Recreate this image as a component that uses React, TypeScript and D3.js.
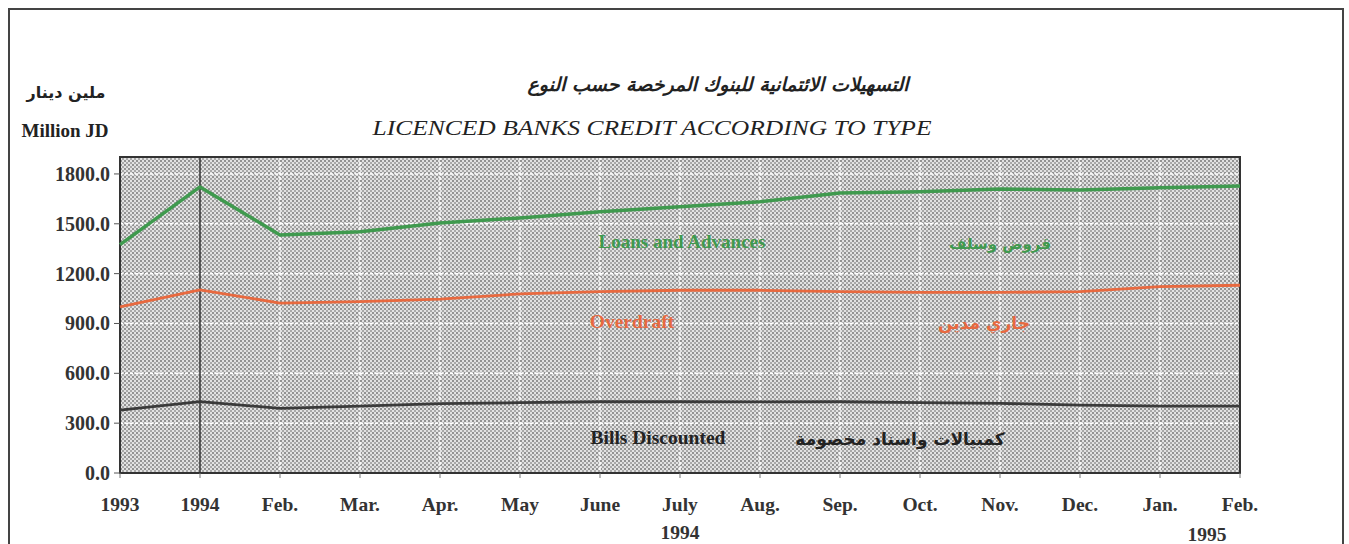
import React from "react";
import * as d3 from "d3";

const categories = ["1993", "1994", "Feb.", "Mar.", "Apr.", "May", "June", "July", "Aug.", "Sep.", "Oct.", "Nov.", "Dec.", "Jan.", "Feb."];
const loans = [1375, 1722, 1433, 1452, 1505, 1535, 1573, 1603, 1633, 1685, 1693, 1710, 1703, 1717, 1727];
const overdraft = [1000, 1102, 1023, 1031, 1046, 1078, 1092, 1100, 1100, 1092, 1087, 1087, 1092, 1122, 1130];
const bills = [379, 429, 389, 403, 418, 423, 429, 429, 428, 429, 423, 419, 409, 403, 403];
const yTicks = [0, 300, 600, 900, 1200, 1500, 1800];

const W = 1349, H = 544;
const M = { left: 120, right: 1240, top: 157, bottom: 473 };
const SERIF = "'Liberation Serif', 'DejaVu Serif', serif";
const AR = "'DejaVu Sans', 'Noto Sans', sans-serif";

export default function App() {
  const x = d3.scalePoint<number>().domain(d3.range(categories.length)).range([M.left, M.right]);
  const y = d3.scaleLinear().domain([0, 1902]).range([M.bottom, M.top]);
  const line = d3.line<number>().x((_, i) => x(i)!).y((d) => y(d));

  const series = [
    { data: loans, color: "#3f9a4e", w: 3.5 },
    { data: overdraft, color: "#e8693f", w: 2.8 },
    { data: bills, color: "#3a3a3a", w: 2.8 },
  ];

  return (
    <div style={{ position: "fixed", left: 0, top: 0 }}>
      <svg width={W} height={H} style={{ display: "block", background: "#fff" }}>
        <defs>
          <pattern id="stip" width="4" height="4" patternUnits="userSpaceOnUse">
            <rect width="4" height="4" fill="#e2e2e2" />
            <rect x="0" y="0" width="2" height="2" fill="#929292" />
            <rect x="2" y="2" width="2" height="2" fill="#a8a8a8" />
          </pattern>
        </defs>
        <path d={`M9,${H + 2} V9 H1343 V${H + 2}`} fill="none" stroke="#444" strokeWidth={2} />

        <text x={718} y={91} textAnchor="middle" fontFamily={AR} fontWeight="bold" fontStyle="italic" fontSize={19} fill="#222" direction="rtl">
          التسهيلات الائتمانية للبنوك المرخصة حسب النوع
        </text>
        <text x={652} y={135} textAnchor="middle" fontFamily={SERIF} fontStyle="italic" fontSize={22} textLength={559} lengthAdjust="spacingAndGlyphs" fill="#222">
          LICENCED BANKS CREDIT ACCORDING TO TYPE
        </text>
        <text x={66} y={98} textAnchor="middle" fontFamily={AR} fontWeight="bold" fontSize={16} fill="#222" direction="rtl">
          ملين دينار
        </text>
        <text x={65} y={137} textAnchor="middle" fontFamily={SERIF} fontWeight="bold" fontSize={19} fill="#222">
          Million JD
        </text>

        <rect x={M.left} y={M.top} width={M.right - M.left} height={M.bottom - M.top} fill="url(#stip)" />

        {yTicks.filter((t) => t > 0).map((t) => (
          <line key={"h" + t} x1={M.left} x2={M.right} y1={y(t)} y2={y(t)} stroke="#fff" strokeWidth={1.5} strokeDasharray="3,2" />
        ))}
        {categories.map((_, i) => (i > 1 && i < categories.length - 1 ? (
          <line key={"v" + i} x1={x(i)} x2={x(i)} y1={M.top} y2={M.bottom} stroke="#fff" strokeWidth={1.5} strokeDasharray="3,2" />
        ) : null))}
        <line x1={x(1)} x2={x(1)} y1={M.top} y2={M.bottom} stroke="#333" strokeWidth={1.5} />

        <rect x={M.left} y={M.top} width={M.right - M.left} height={M.bottom - M.top} fill="none" stroke="#333" strokeWidth={2} />

        {series.map((s, k) => (
          <path key={k} d={line(s.data) || ""} fill="none" stroke={s.color} strokeWidth={s.w} strokeLinejoin="round" />
        ))}

        {yTicks.map((t) => (
          <g key={"yt" + t}>
            <line x1={M.left - 6} x2={M.left} y1={y(t)} y2={y(t)} stroke="#555" strokeWidth={1} />
            <text x={M.left - 10} y={y(t) + 7} textAnchor="end" fontFamily={SERIF} fontWeight="bold" fontSize={20} fill="#333">
              {d3.format(".1f")(t)}
            </text>
          </g>
        ))}

        {categories.map((c, i) => (
          <g key={"xt" + i}>
            <line x1={x(i)} x2={x(i)} y1={M.bottom} y2={M.bottom + 5} stroke="#777" strokeWidth={1} />
            <text x={x(i)} y={511} textAnchor="middle" fontFamily={SERIF} fontWeight="bold" fontSize={19.5} fill="#333">
              {c}
            </text>
          </g>
        ))}
        <text x={x(7)} y={539} textAnchor="middle" fontFamily={SERIF} fontWeight="bold" fontSize={19.5} fill="#333">1994</text>
        <text x={(x(13)! + x(14)!) / 2 + 7} y={541} textAnchor="middle" fontFamily={SERIF} fontWeight="bold" fontSize={19.5} fill="#333">1995</text>

        <text x={682} y={248} textAnchor="middle" fontFamily={SERIF} fontWeight="bold" fontSize={19} fill="#3f9a4e">Loans and Advances</text>
        <text x={1000} y={249} textAnchor="middle" fontFamily={AR} fontWeight="bold" fontSize={15} fill="#3f9a4e" direction="rtl">قروض وسلف</text>
        <text x={632} y={328} textAnchor="middle" fontFamily={SERIF} fontWeight="bold" fontSize={19.5} fill="#e8693f">Overdraft</text>
        <text x={984} y={329} textAnchor="middle" fontFamily={AR} fontWeight="bold" fontSize={17} fill="#e8693f" direction="rtl">جاري مدين</text>
        <text x={658} y={444} textAnchor="middle" fontFamily={SERIF} fontWeight="bold" fontSize={19.5} fill="#222">Bills Discounted</text>
        <text x={900} y={445} textAnchor="middle" fontFamily={AR} fontWeight="bold" fontSize={17} fill="#222" direction="rtl">كمبيالات واسناد مخصومة</text>
      </svg>
    </div>
  );
}
